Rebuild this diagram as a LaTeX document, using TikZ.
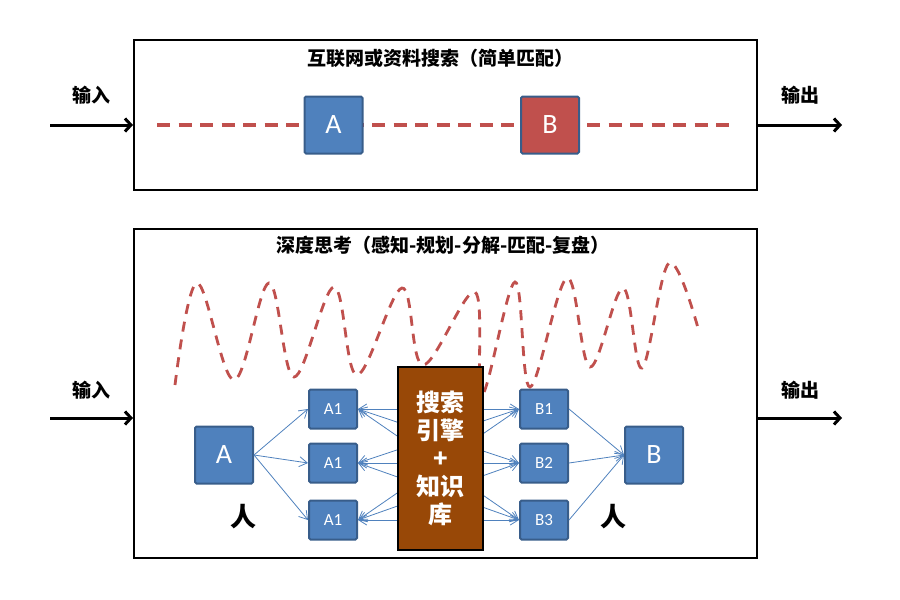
\documentclass[tikz,border=0pt]{standalone}
\usepackage{fontspec}
\setmainfont{Carlito}
\newfontfamily\cjk{Noto Sans CJK SC}
\usetikzlibrary{arrows.meta, positioning}
\definecolor{cblue}{HTML}{4F81BD}
\definecolor{cdark}{HTML}{385D8A}
\definecolor{cred}{HTML}{C0504D}
\definecolor{cbrown}{HTML}{984807}
\tikzset{
  panel/.style={draw=black, line width=2pt, minimum width=623pt},
  blk/.style={draw=cdark, fill=#1, line width=2pt, rounded corners=1.5pt, text=white, inner sep=0pt},
  blk/.default=cblue,
  bigblk/.style={blk=#1, minimum width=58pt, minimum height=57pt, font=\fontsize{28}{28}\selectfont},
  bigblk/.default=cblue,
  smallblk/.style={blk, minimum width=48pt, minimum height=39pt, font=\fontsize{17}{17}\selectfont},
  io/.style={-{Straight Barb[length=6pt,width=13pt]}, line width=3pt},
  link/.style={cblue, line width=0.8pt, -{Straight Barb[length=8pt,width=10pt]}},
  cntext/.style={font=\cjk\bfseries\fontsize{19}{19}\selectfont},
  dashline/.style={cred, line width=3.2pt, dash pattern=on 13pt off 8.5pt},
}
\begin{document}
\begin{tikzpicture}[x=1pt, y=-1pt]
  \useasboundingbox (0,0) rectangle (900,600);
  % upper panel: simple match
  \node[panel, minimum height=150pt] (top) at (445.5,115) {};
  \node[cntext] (ttl1) at (440,58) {互联网或资料搜索（简单匹配）};
  \draw[dashline] (157,125) -- (735,125);
  \node[bigblk] (ta) at (333.5,125) {A};
  \node[bigblk=cred] (tb) at (550,125) {B};
  \coordinate (in1) at (50,125);
  \coordinate (out1) at (842,125);
  \draw[io] (in1) -- (in1 -| top.west);
  \draw[io] (out1 -| top.east) -- (out1);
  \node[cntext] at (91,95) {输入};
  \node[cntext] at (800,95) {输出};
  % lower panel: deep thinking
  \node[panel, minimum height=329pt] (bot) at (445.5,393.5) {};
  \node[cntext] (ttl2) at (443,245) {深度思考（感知-规划-分解-匹配-复盘）};
  \draw[cred, line width=2.8pt, dash pattern=on 10pt off 8pt] plot[smooth, tension=0.6] coordinates {(175,385) (197,283) (234,380) (269,283) (294,377) (334,287) (357,375) (402,288) (423,365) (475,292) (482,395) (515,282) (530,387) (567,278) (590,367) (623,288) (642,368) (669,263) (698,328)};
  \coordinate (in2) at (50,418);
  \coordinate (out2) at (842,418);
  \draw[io] (in2) -- (in2 -| bot.west);
  \draw[io] (out2 -| bot.east) -- (out2);
  \node[cntext] at (91,390) {输入};
  \node[cntext] at (800,390) {输出};
  \node[bigblk] (a) at (224,455) {A};
  \node[bigblk] (b) at (654,455) {B};
  \foreach \n/\y in {1/409, 2/463, 3/520} {
    \node[smallblk] (a\n) at (333,\y) {A1};
    \node[smallblk] (b\n) at (544,\y) {B\n};
  }
  \foreach \i in {1,2,3} {
    \draw[link] (a.east) -- (a\i.west);
    \draw[link] (b\i.east) -- (b.west);
    \foreach \j in {1,2,3}
      \draw[link, {Straight Barb[length=8pt,width=10pt]}-{Straight Barb[length=8pt,width=10pt]}] (a\i.east) -- (b\j.west);
  }
  \node[draw=black, fill=cbrown, line width=1.2pt, minimum width=85pt, minimum height=183pt, text=white, align=center, font=\cjk\bfseries\fontsize{24}{28}\selectfont] (kb) at (440.5,458.5) {搜索\\引擎\\+\\知识\\库};
  \node[font=\cjk\bfseries\fontsize{26}{26}\selectfont] at (243,517) {人};
  \node[font=\cjk\bfseries\fontsize{26}{26}\selectfont] at (613,517) {人};
\end{tikzpicture}
\end{document}
